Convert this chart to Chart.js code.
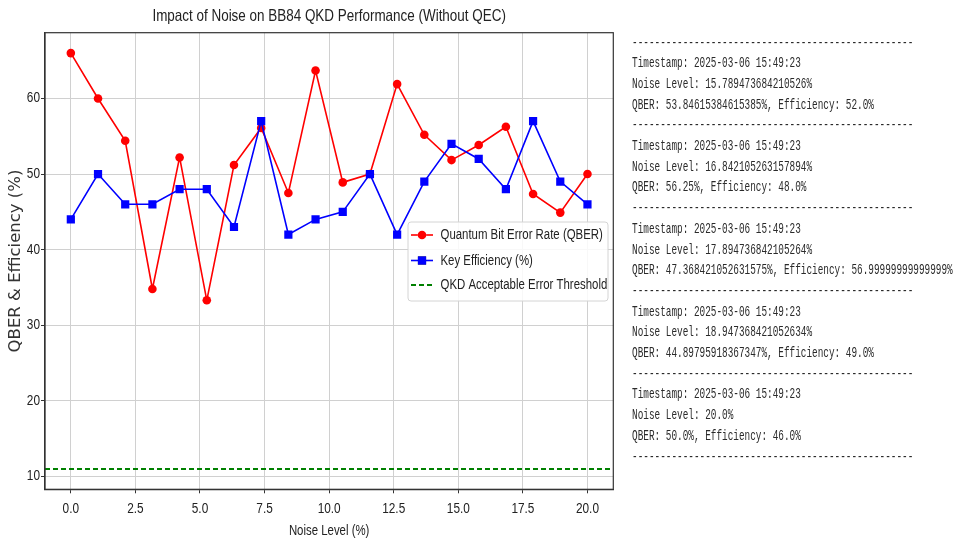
<!DOCTYPE html>
<html>
<head>
<meta charset="utf-8">
<script src="https://cdn.jsdelivr.net/npm/chart.js@4.4.1/dist/chart.umd.min.js"></script>
<style>
  html, body { margin: 0; padding: 0; background: #ffffff; }
  body { width: 957px; height: 542px; position: relative; overflow: hidden; }
  #chartWrap { position: absolute; left: 0; top: 0; width: 658px; height: 542px; }
  #log {
    position: absolute; left: 632px; top: 33.5px; margin: 0;
    font-family: 'Liberation Mono', 'DejaVu Sans Mono', monospace;
    font-size: 15px; line-height: 20.7px; color: #2a2a2a;
    white-space: pre; transform: scaleX(0.625); transform-origin: 0 0;
  }
</style>
</head>
<body>
<div id="chartWrap"><canvas id="c" width="658" height="542"></canvas></div>
<pre id="log"></pre>
<script>
// ---- data ----
const noiseLevels = [0, 1.0526, 2.1053, 3.1579, 4.2105, 5.2632, 6.3158, 7.3684, 8.4211, 9.4737,
                     10.5263, 11.5789, 12.6316, 13.6842, 14.7368, 15.7895, 16.8421, 17.8947, 18.9474, 20];
const qberValues = [66.0, 60.0, 54.4, 34.8, 52.2, 33.3, 51.2, 56.1, 47.5, 63.7,
                    48.9, 50.0, 61.9, 55.2, 51.85, 53.85, 56.25, 47.37, 44.9, 50.0];
const efficiencyValues = [44, 50, 46, 46, 48, 48, 43, 57, 42, 44,
                          45, 50, 42, 49, 54, 52, 48, 57, 49, 46];
const thresholdValue = 11;
const xTickValues = [0, 2.5, 5, 7.5, 10, 12.5, 15, 17.5, 20];
const yTickValues = [10, 20, 30, 40, 50, 60];
const xRange = [-1, 21];
const yRange = [8.3, 68.7];
const seriesLabels = ['Quantum Bit Error Rate (QBER)', 'Key Efficiency (%)', 'QKD Acceptable Error Threshold'];
const chartTitle = 'Impact of Noise on BB84 QKD Performance (Without QEC)';
const xAxisTitle = 'Noise Level (%)';
const yAxisTitle = 'QBER & Efficiency (%)';
const dashLine = '--------------------------------------------------';
const logLines = [
  dashLine,
  'Timestamp: 2025-03-06 15:49:23',
  'Noise Level: 15.789473684210526%',
  'QBER: 53.84615384615385%, Efficiency: 52.0%',
  dashLine,
  'Timestamp: 2025-03-06 15:49:23',
  'Noise Level: 16.842105263157894%',
  'QBER: 56.25%, Efficiency: 48.0%',
  dashLine,
  'Timestamp: 2025-03-06 15:49:23',
  'Noise Level: 17.894736842105264%',
  'QBER: 47.368421052631575%, Efficiency: 56.99999999999999%',
  dashLine,
  'Timestamp: 2025-03-06 15:49:23',
  'Noise Level: 18.947368421052634%',
  'QBER: 44.89795918367347%, Efficiency: 49.0%',
  dashLine,
  'Timestamp: 2025-03-06 15:49:23',
  'Noise Level: 20.0%',
  'QBER: 50.0%, Efficiency: 46.0%',
  dashLine
];

document.getElementById('log').textContent = logLines.join('\n');

const NARROW = "'Liberation Sans', Arial, sans-serif";
const SQUISH = 0.815;

// condensed rendering of the chart's sans text (the reference uses a narrow face)
const canvas = document.getElementById('c');
const ctx2d = canvas.getContext('2d');
const origFillText = ctx2d.fillText;
ctx2d.fillText = function (text, x, y, maxWidth) {
  if (this.font.indexOf('Liberation Sans') !== -1) {
    this.save();
    this.translate(x, y);
    this.scale(SQUISH, 1);
    origFillText.call(this, text, 0, 0);
    this.restore();
  } else if (maxWidth === undefined) {
    origFillText.call(this, text, x, y);
  } else {
    origFillText.call(this, text, x, y, maxWidth);
  }
};

const framePlugin = {
  id: 'frame',
  afterDatasetsDraw(chart) {
    const a = chart.chartArea, ctx = chart.ctx;
    ctx.save();
    ctx.strokeStyle = '#333333';
    ctx.lineWidth = 1.2;
    ctx.strokeRect(a.left, a.top, a.right - a.left, a.bottom - a.top);
    ctx.restore();
  }
};

const legendPlugin = {
  id: 'innerLegend',
  afterDraw(chart) {
    const ctx = chart.ctx;
    const bx = 408, by = 222, bw = 200, bh = 79, r = 3;
    ctx.save();
    ctx.beginPath();
    ctx.moveTo(bx + r, by);
    ctx.arcTo(bx + bw, by, bx + bw, by + bh, r);
    ctx.arcTo(bx + bw, by + bh, bx, by + bh, r);
    ctx.arcTo(bx, by + bh, bx, by, r);
    ctx.arcTo(bx, by, bx + bw, by, r);
    ctx.closePath();
    ctx.fillStyle = 'rgba(255,255,255,0.85)';
    ctx.fill();
    ctx.strokeStyle = '#d4d4d4';
    ctx.lineWidth = 1;
    ctx.stroke();
    const rows = [235, 260.5, 285];
    chart.data.datasets.forEach((ds, i) => {
      const y = rows[i];
      ctx.save();
      ctx.strokeStyle = ds.borderColor;
      ctx.lineWidth = ds.borderWidth;
      ctx.setLineDash(ds.borderDash || []);
      ctx.beginPath();
      ctx.moveTo(411, y);
      ctx.lineTo(433, y);
      ctx.stroke();
      ctx.restore();
      if (ds.pointRadius > 0) {
        Chart.helpers.drawPoint(ctx, {
          pointStyle: ds.pointStyle, radius: ds.pointRadius, borderWidth: 0, rotation: 0
        }, 422, y);
        ctx.fillStyle = ds.backgroundColor;
        ctx.fill();
      }
      ctx.fillStyle = '#222222';
      ctx.font = "14px " + NARROW;
      ctx.textBaseline = 'middle';
      ctx.textAlign = 'left';
      ctx.fillText(ds.label, 440.5, y + 0.5);
    });
    ctx.restore();
  }
};

Chart.defaults.color = '#222222';

new Chart(canvas, {
  type: 'line',
  data: {
    datasets: [
      {
        label: seriesLabels[0],
        data: noiseLevels.map((x, i) => ({ x: x, y: qberValues[i] })),
        borderColor: '#ff0000', backgroundColor: '#ff0000',
        borderWidth: 1.6, pointStyle: 'circle', pointRadius: 4.3, pointBorderWidth: 0,
        pointHoverRadius: 4.3, order: 2, tension: 0
      },
      {
        label: seriesLabels[1],
        data: noiseLevels.map((x, i) => ({ x: x, y: efficiencyValues[i] })),
        borderColor: '#0000ff', backgroundColor: '#0000ff',
        borderWidth: 1.6, pointStyle: 'rect', pointRadius: 5.8, pointBorderWidth: 0,
        pointHoverRadius: 5.8, order: 1, tension: 0
      },
      {
        label: seriesLabels[2],
        data: [{ x: xRange[0], y: thresholdValue }, { x: xRange[1], y: thresholdValue }],
        borderColor: '#008000', backgroundColor: '#008000',
        borderWidth: 2, borderDash: [5, 3], pointRadius: 0, order: 0
      }
    ]
  },
  options: {
    responsive: false,
    animation: false,
    devicePixelRatio: 1,
    layout: { padding: { left: 0, right: 44.7, top: 0, bottom: 0 } },
    plugins: {
      legend: { display: false },
      tooltip: { enabled: false },
      title: {
        display: true, text: chartTitle, color: '#222222', fullSize: false,
        font: { family: NARROW, size: 16.5, weight: 'normal', lineHeight: 1.2 },
        padding: { top: 6.8, bottom: 6.1 }
      }
    },
    scales: {
      x: {
        type: 'linear', min: xRange[0], max: xRange[1],
        afterBuildTicks: (s) => { s.ticks = xTickValues.map(v => ({ value: v })); },
        afterFit: (s) => { s.height = 52.7; },
        ticks: {
          autoSkip: false, maxRotation: 0, padding: 7, color: '#222222',
          font: { family: NARROW, size: 14.5 },
          callback: (v) => Number(v).toFixed(1)
        },
        grid: { color: '#d0d0d0', lineWidth: 1, tickLength: 4, tickColor: '#333333', tickWidth: 1 },
        border: { display: true, color: '#333333', width: 1.2 },
        title: {
          display: true, text: xAxisTitle, color: '#222222',
          font: { family: NARROW, size: 14, lineHeight: 1.2 },
          padding: { top: 0, bottom: 2.4 }
        }
      },
      y: {
        type: 'linear', min: yRange[0], max: yRange[1],
        afterBuildTicks: (s) => { s.ticks = yTickValues.map(v => ({ value: v })); },
        afterFit: (s) => { s.width = 45; },
        ticks: {
          autoSkip: false, padding: 1, color: '#222222',
          font: { family: NARROW, size: 14.5 },
          callback: (v) => String(v)
        },
        grid: { color: '#d0d0d0', lineWidth: 1, tickLength: 4, tickColor: '#333333', tickWidth: 1 },
        border: { display: true, color: '#333333', width: 1.2 },
        title: {
          display: true, text: yAxisTitle, color: '#333333',
          font: { family: "'DejaVu Sans', sans-serif", size: 16.5, lineHeight: 1.2 },
          padding: { top: 5.5, bottom: 0 }
        }
      }
    }
  },
  plugins: [framePlugin, legendPlugin]
});
</script>
</body>
</html>
